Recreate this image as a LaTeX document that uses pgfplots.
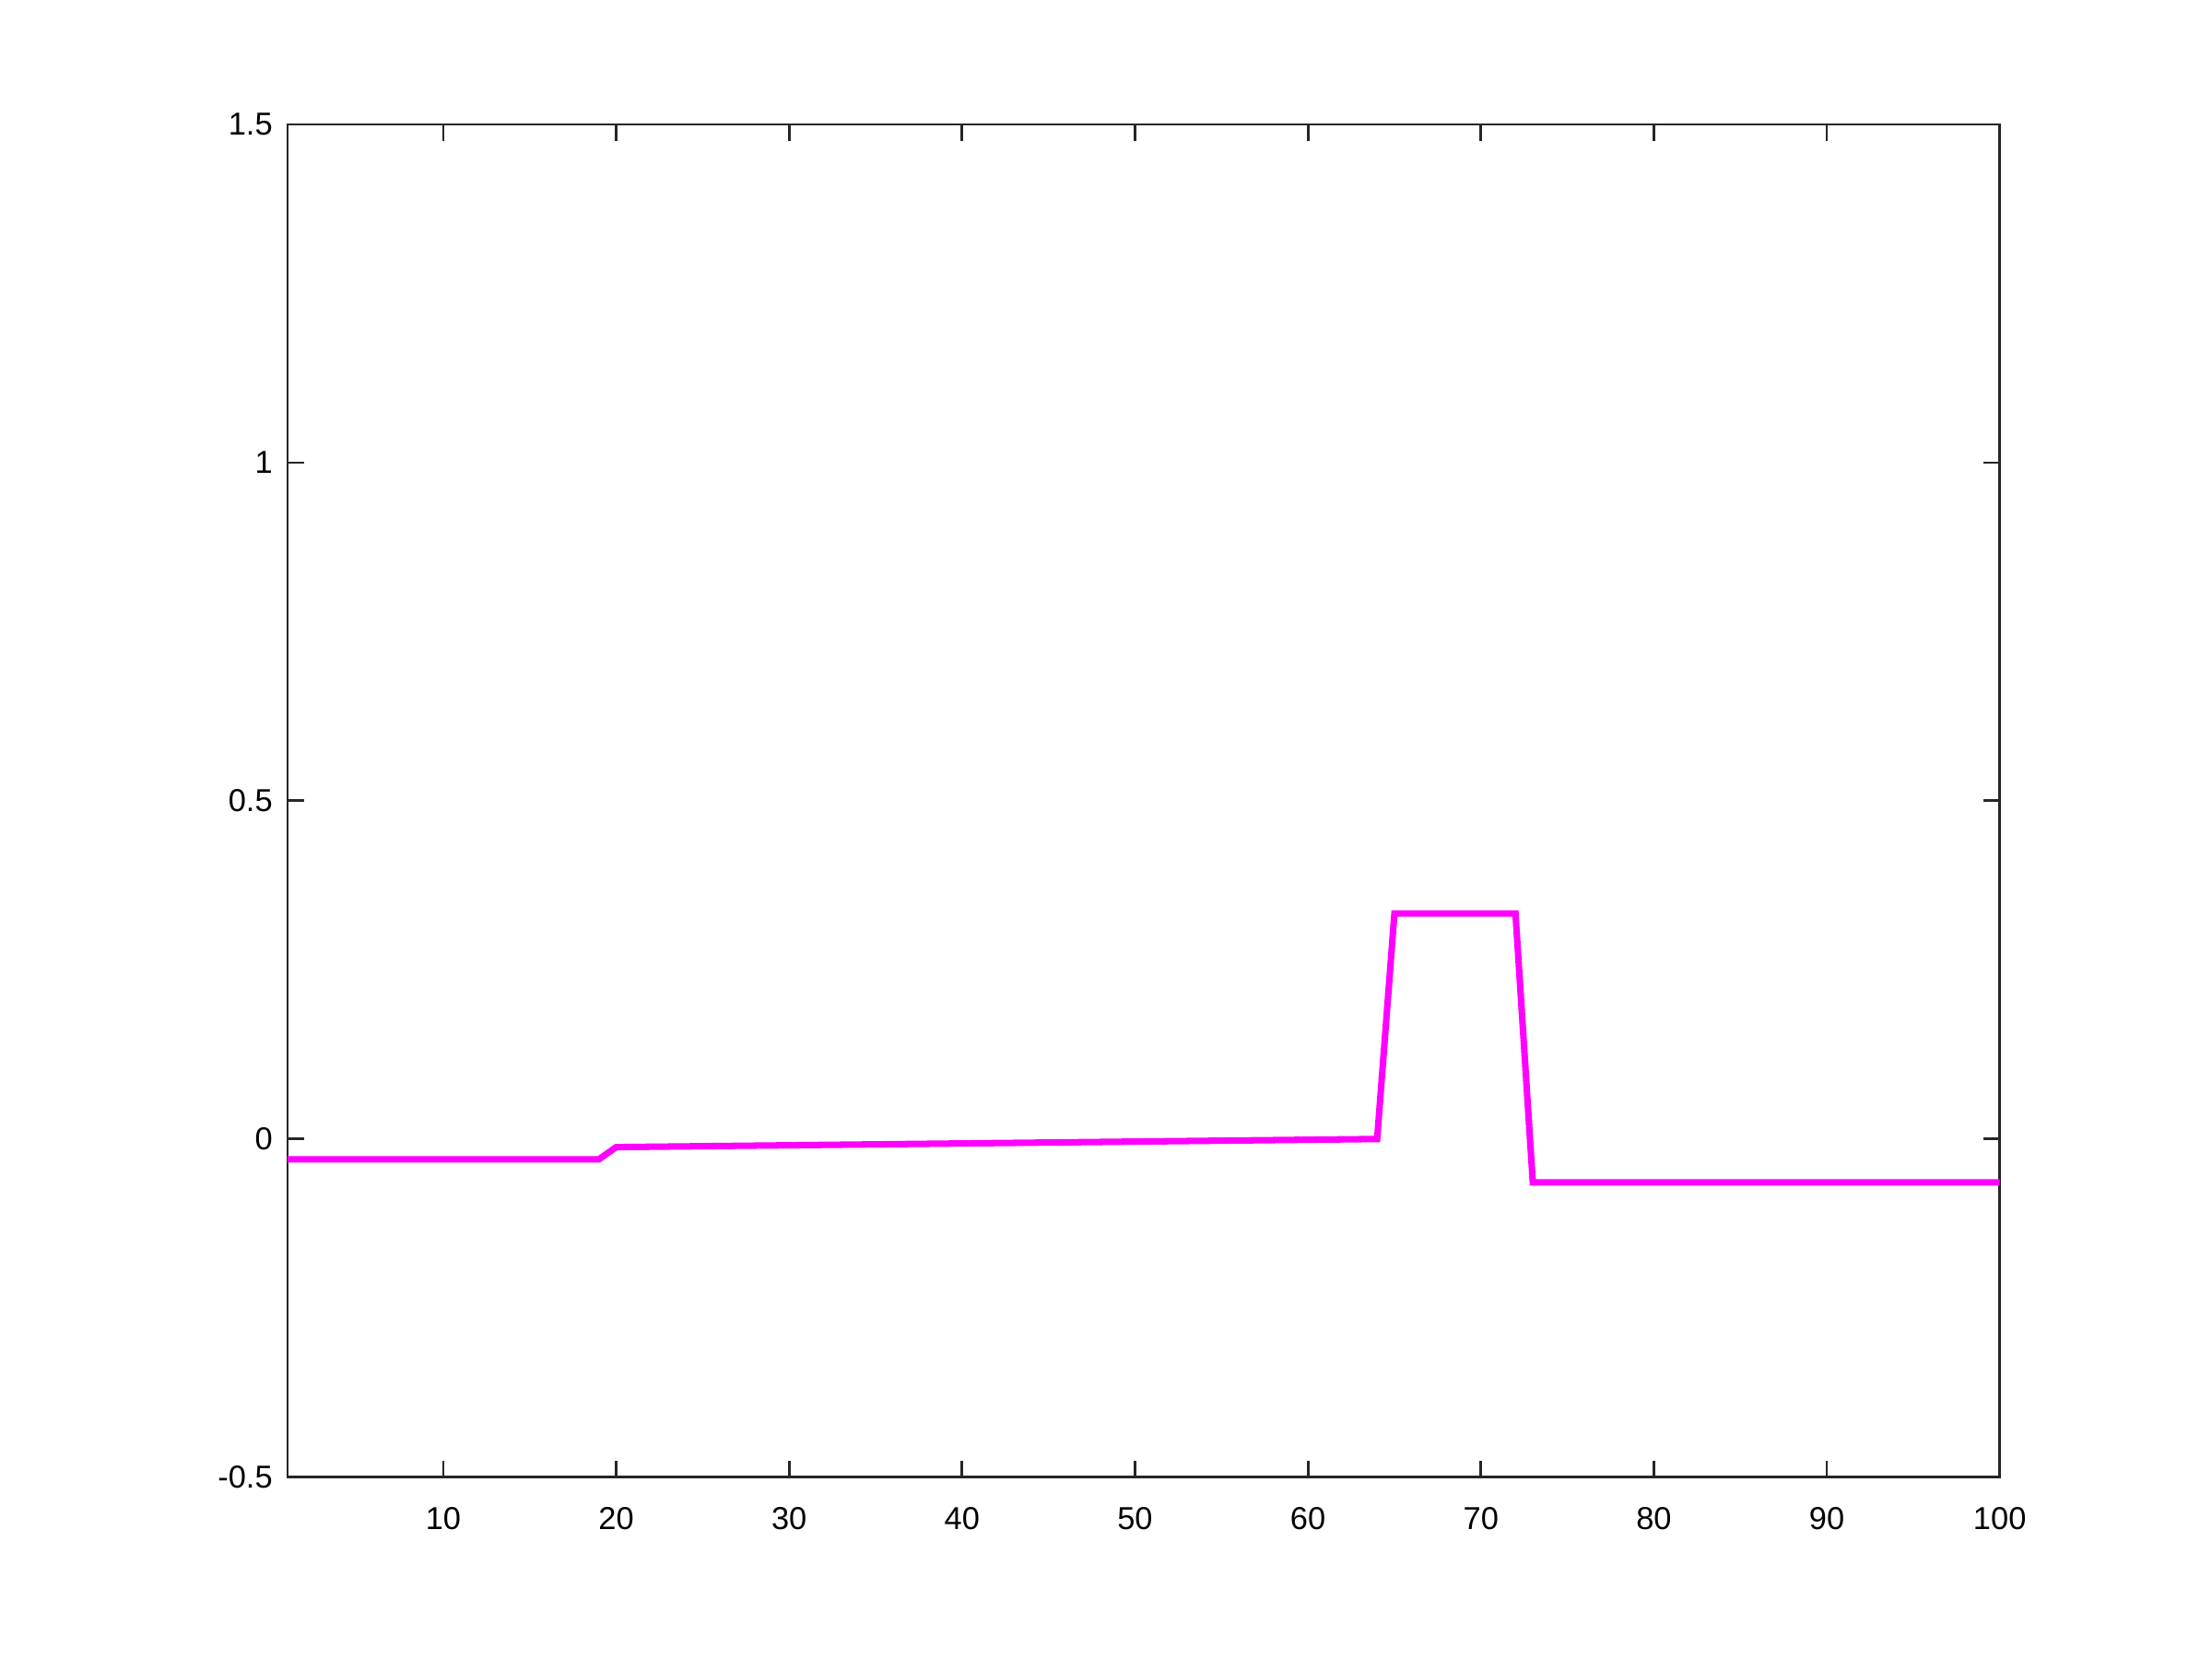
\documentclass[border=0pt]{standalone}
\usepackage{fontspec}
\setmainfont{Liberation Sans}
\usepackage{pgfplots}
\pgfplotsset{compat=1.18}
\definecolor{mag}{RGB}{255,0,255}

\begin{document}
\begin{tikzpicture}
\begin{axis}[
  scale only axis, width=18.58cm, height=14.68cm,
  xmin=1, xmax=100, ymin=-0.5, ymax=1.5,
  xtick={10,20,...,100}, ytick={-0.5,0,0.5,1,1.5},
  tick align=inside, major tick length=0.18cm,
  axis line style={line width=0.8pt, black!85},
  every tick/.style={line width=0.8pt, black!85},
  tick label style={font=\fontsize{9.8}{11}\selectfont},
  xticklabel style={yshift=-0.2cm},
  yticklabel style={xshift=-0.04cm, /pgf/number format/fixed},
  /pgf/number format/assume math mode=true,
  xtick pos=both, ytick pos=both,
  clip=false,
]
\addplot[mag, line width=2pt] coordinates {
  (1,-0.030) (19,-0.030) (20,-0.012) (64,0.0) (65,0.3335)
  (72,0.3335) (73,-0.064) (100,-0.064)
};
\path (rel axis cs:-0.168,-0.134) (rel axis cs:1.124,1.092);
\end{axis}
\end{tikzpicture}
\end{document}
